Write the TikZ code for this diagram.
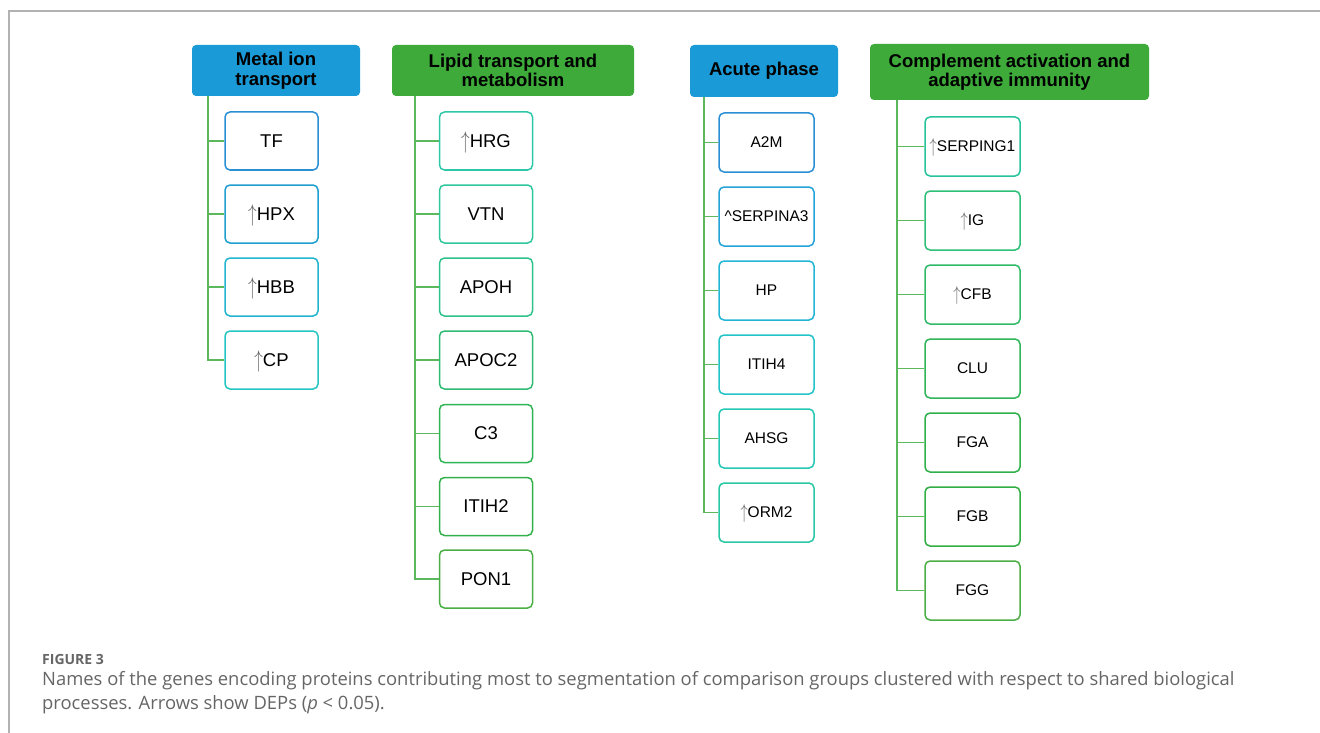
\documentclass[tikz,border=0pt]{standalone}
\usepackage{fontspec}
\setmainfont{Liberation Sans}
\newfontfamily\capfont{Open Sans}
\definecolor{hblue}{HTML}{1A9AD6}
\definecolor{hgreen}{HTML}{3DAA3A}
\definecolor{tgreen}{HTML}{5CB85C}
\definecolor{capgray}{HTML}{666666}
\definecolor{c1a}{HTML}{2B8FD4}
\definecolor{c1b}{HTML}{1F9FD0}
\definecolor{c1c}{HTML}{22B5CF}
\definecolor{c1d}{HTML}{26C6C4}
\definecolor{c2a}{HTML}{2EC8A8}
\definecolor{c2b}{HTML}{2EC89C}
\definecolor{c2c}{HTML}{2EC28C}
\definecolor{c2d}{HTML}{30BB74}
\definecolor{c2e}{HTML}{2FB456}
\definecolor{c2f}{HTML}{33B04A}
\definecolor{c2g}{HTML}{4CAF45}
\definecolor{c3a}{HTML}{2B8FD4}
\definecolor{c3b}{HTML}{24A3D8}
\definecolor{c3c}{HTML}{22B6D6}
\definecolor{c3d}{HTML}{22C4C8}
\definecolor{c3e}{HTML}{25C8B4}
\definecolor{c3f}{HTML}{28C8A4}
\definecolor{c4a}{HTML}{26C49C}
\definecolor{c4b}{HTML}{2EBF78}
\definecolor{c4c}{HTML}{30BA68}
\definecolor{c4d}{HTML}{30B558}
\definecolor{c4e}{HTML}{30B04A}
\definecolor{c4f}{HTML}{32AE44}
\definecolor{c4g}{HTML}{4CAF45}
\newcommand{\uparr}{{\color{black!60}\smash{\raisebox{-0.06em}{\scalebox{1}[1.4]{$\uparrow$}}}}}
\begin{document}
\begin{tikzpicture}[x=1pt,y=-1pt,
  hdr/.style={rounded corners=4pt, inner sep=0pt, align=center,
    font=\bfseries\fontsize{18.5}{19.5}\selectfont, text=black},
  bluehdr/.style={hdr, fill=hblue},
  greenhdr/.style={hdr, fill=hgreen},
  genebig/.style={draw, line width=1.5pt, rounded corners=5pt, fill=white,
    minimum width=93pt, minimum height=58pt, inner sep=0pt,
    font=\fontsize{18.5}{20}\selectfont},
  genesmall/.style={draw, line width=1.5pt, rounded corners=5pt, fill=white,
    minimum width=95pt, minimum height=59pt, inner sep=0pt,
    font=\fontsize{15.5}{17}\selectfont},
  tree/.style={draw=tgreen, line width=1.5pt},
]
\useasboundingbox (0,0) rectangle (1320,733);
\fill[white] (0,0) rectangle (1320,733);
% frame
\draw[black!30, line width=1.5pt] (9,733) -- (9,11) -- (1320,11);

% ---------- column 1
\node[bluehdr, minimum width=168pt, minimum height=51pt] (h1) at (276,70.5) {Metal ion\\transport};
\coordinate (t1) at (208,0);
\node[genebig, draw=c1a] (a1) at (271.5,141) {TF};
\node[genebig, draw=c1b] (a2) at (271.5,214) {\uparr HPX};
\node[genebig, draw=c1c] (a3) at (271.5,287) {\uparr HBB};
\node[genebig, draw=c1d] (a4) at (271.5,360) {\uparr CP};
\foreach \n in {a1,a2,a3,a4} \draw[tree] (h1.south -| t1) |- (\n.west);

% ---------- column 2
\node[greenhdr, minimum width=242pt, minimum height=51pt] (h2) at (513,70.5) {Lipid transport and\\metabolism};
\coordinate (t2) at (415,0);
\node[genebig, draw=c2a] (b1) at (486,141) {\uparr HRG};
\node[genebig, draw=c2b] (b2) at (486,214) {VTN};
\node[genebig, draw=c2c] (b3) at (486,287) {APOH};
\node[genebig, draw=c2d] (b4) at (486,360) {APOC2};
\node[genebig, draw=c2e] (b5) at (486,433.5) {C3};
\node[genebig, draw=c2f] (b6) at (486,506.5) {ITIH2};
\node[genebig, draw=c2g] (b7) at (486,579) {PON1};
\foreach \n in {b1,b2,b3,b4,b5,b6,b7} \draw[tree] (h2.south -| t2) |- (\n.west);

% ---------- column 3
\node[bluehdr, minimum width=148pt, minimum height=52pt] (h3) at (764,71) {Acute phase};
\coordinate (t3) at (704,0);
\node[genesmall, draw=c3a] (d1) at (766.5,142.5) {A2M};
\node[genesmall, draw=c3b] (d2) at (766.5,216.5) {\textasciicircum SERPINA3};
\node[genesmall, draw=c3c] (d3) at (766.5,290.5) {HP};
\node[genesmall, draw=c3d] (d4) at (766.5,364.5) {ITIH4};
\node[genesmall, draw=c3e] (d5) at (766.5,438.5) {AHSG};
\node[genesmall, draw=c3f] (d6) at (766.5,512.5) {\uparr ORM2};
\foreach \n in {d1,d2,d3,d4,d5,d6} \draw[tree] (h3.south -| t3) |- (\n.west);

% ---------- column 4
\node[greenhdr, minimum width=279pt, minimum height=56pt] (h4) at (1009.5,72) {Complement activation and\\adaptive immunity};
\coordinate (t4) at (897,0);
\node[genesmall, draw=c4a] (e1) at (972.5,146.5) {\uparr SERPING1};
\node[genesmall, draw=c4b] (e2) at (972.5,220.5) {\uparr IG};
\node[genesmall, draw=c4c] (e3) at (972.5,294.5) {\uparr CFB};
\node[genesmall, draw=c4d] (e4) at (972.5,368.5) {CLU};
\node[genesmall, draw=c4e] (e5) at (972.5,442.5) {FGA};
\node[genesmall, draw=c4f] (e6) at (972.5,516.5) {FGB};
\node[genesmall, draw=c4g] (e7) at (972.5,590.5) {FGG};
\foreach \n in {e1,e2,e3,e4,e5,e6,e7} \draw[tree] (h4.south -| t4) |- (\n.west);

% ---------- caption
\node[anchor=base west, inner sep=0pt, text=capgray, font=\capfont\bfseries\fontsize{14}{16}\selectfont] (fig) at (42,664) {FIGURE 3};
\node[anchor=base west, inner sep=0pt, text=capgray, font=\capfont\fontsize{18.4}{20}\selectfont] (cap1) at (42,685.5) {Names of the genes encoding proteins contributing most to segmentation of comparison groups clustered with respect to shared biological};
\node[anchor=base west, inner sep=0pt, text=capgray, font=\capfont\fontsize{18.4}{20}\selectfont] (cap2) at (42,709.5) {processes. Arrows show DEPs (\textit{p} < 0.05).};
\end{tikzpicture}
\end{document}
